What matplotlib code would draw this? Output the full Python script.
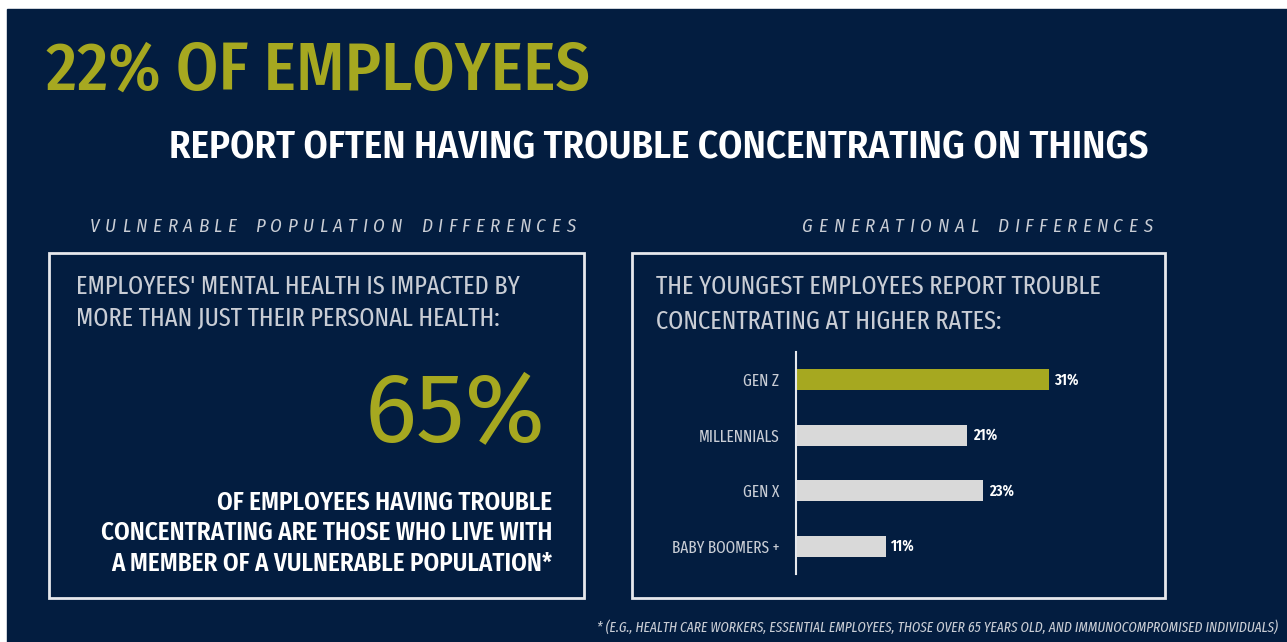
import matplotlib
matplotlib.use('Agg')
import matplotlib.pyplot as plt
from matplotlib.patches import Rectangle

# survey figures
generations = ['GEN Z', 'MILLENNIALS', 'GEN X', 'BABY BOOMERS +']
trouble_pct = [31, 21, 23, 11]
headline_pct = 22
vulnerable_pct = 65

NAVY = '#031d40'
OLIVE = '#a6a820'
BAR_GREY = '#d9d9d9'
TEXT_GREY = '#c9cdd5'
FONT = ['Fira Sans Condensed', 'DejaVu Sans']
NARROW = ['Fira Sans Extra Condensed', 'DejaVu Sans']

W, H = 1287, 642
fig = plt.figure(figsize=(W / 100, H / 100), dpi=100)
fig.patch.set_facecolor('white')

# full-figure axes in pixel units for the text and frames
bg = fig.add_axes([0, 0, 1, 1])
bg.set_xlim(0, W)
bg.set_ylim(H, 0)
bg.axis('off')
bg.add_patch(Rectangle((7, 9), W - 7, H - 9, color=NAVY, zorder=0))

renderer = fig.canvas.get_renderer()


def spaced(x0, x1, y, s, **kw):
    # spread the letters of s evenly between x0 and x1
    widths = []
    for ch in s:
        t = bg.text(0, 0, 'N' if ch == ' ' else ch, **kw)
        w = t.get_window_extent(renderer).width
        t.remove()
        widths.append(w * 0.7 if ch == ' ' else w)
    gap = (x1 - x0 - sum(widths)) / (len(s) - 1)
    x = x0
    for ch, w in zip(s, widths):
        if ch != ' ':
            bg.text(x, y, ch, ha='left', va='center', **kw)
        x += w + gap


# headline
bg.text(46, 72, f'{headline_pct}% OF EMPLOYEES', color=OLIVE, fontsize=49,
        family=FONT, fontweight='medium', ha='left', va='center')
bg.text(659, 148, 'REPORT OFTEN HAVING TROUBLE CONCENTRATING ON THINGS',
        color='white', fontsize=28, fontweight='semibold', family=FONT,
        ha='center', va='center')

# section captions
spaced(90, 575, 227, 'VULNERABLE POPULATION DIFFERENCES', color=TEXT_GREY,
       fontsize=13.5, style='italic', family=FONT)
spaced(802, 1152, 227, 'GENERATIONAL DIFFERENCES', color=TEXT_GREY,
       fontsize=13.5, style='italic', family=FONT)

# panel frames
for x0, x1 in [(49, 584), (632, 1165)]:
    bg.add_patch(Rectangle((x0, 253), x1 - x0, 345, fill=False,
                           edgecolor='#e6e8ec', lw=2, zorder=2))

# left panel
bg.text(76, 287, "EMPLOYEES' MENTAL HEALTH IS IMPACTED BY", color=TEXT_GREY,
        fontsize=19, family=NARROW, ha='left', va='center')
bg.text(76, 318, 'MORE THAN JUST THEIR PERSONAL HEALTH:', color=TEXT_GREY,
        fontsize=19, family=NARROW, ha='left', va='center')
bg.text(546, 416, f'{vulnerable_pct}%', color=OLIVE, fontsize=70,
        family=['Fira Sans', 'DejaVu Sans'], ha='right', va='center')
for y, line in zip([503, 533, 564], ['OF EMPLOYEES HAVING TROUBLE',
                                     'CONCENTRATING ARE THOSE WHO LIVE WITH',
                                     'A MEMBER OF A VULNERABLE POPULATION*']):
    bg.text(552, y, line, color='white', fontsize=18, fontweight='semibold',
            family=FONT, ha='right', va='center')

# right panel
bg.text(656, 287, 'THE YOUNGEST EMPLOYEES REPORT TROUBLE', color=TEXT_GREY,
        fontsize=19, family=NARROW, ha='left', va='center')
bg.text(656, 322, 'CONCENTRATING AT HIGHER RATES:', color=TEXT_GREY,
        fontsize=19, family=NARROW, ha='left', va='center')

# footnote
bg.text(1278, 627, '* (E.G., HEALTH CARE WORKERS, ESSENTIAL EMPLOYEES, THOSE OVER 65 '
        'YEARS OLD, AND IMMUNOCOMPROMISED INDIVIDUALS)', color=TEXT_GREY,
        fontsize=10.5, style='italic', family=NARROW, ha='right', va='center')

# bar chart
ax = fig.add_axes([796 / W, (H - 574) / H, 326 / W, 222 / H])
ax.set_facecolor('none')
ypos = range(len(generations))
colors = [OLIVE] + [BAR_GREY] * (len(generations) - 1)
ax.barh(ypos, trouble_pct, height=0.38, color=colors)
ax.set_xlim(0, 40)
ax.set_ylim(3.5, -0.5)
for sp in ['top', 'right', 'bottom']:
    ax.spines[sp].set_visible(False)
ax.spines['left'].set_color('#e6e8ec')
ax.spines['left'].set_linewidth(1.5)
ax.set_xticks([])
ax.set_yticks(list(ypos))
ax.set_yticklabels(generations, color=TEXT_GREY, fontsize=12, family=NARROW)
ax.tick_params(axis='y', length=0, pad=12)
for y, v in zip(ypos, trouble_pct):
    ax.text(v + 0.7, y, f'{v}%', color='white', fontsize=11.5,
            fontweight='semibold', family=NARROW, ha='left', va='center')

fig.savefig('out.png', dpi=100, facecolor=fig.get_facecolor())
